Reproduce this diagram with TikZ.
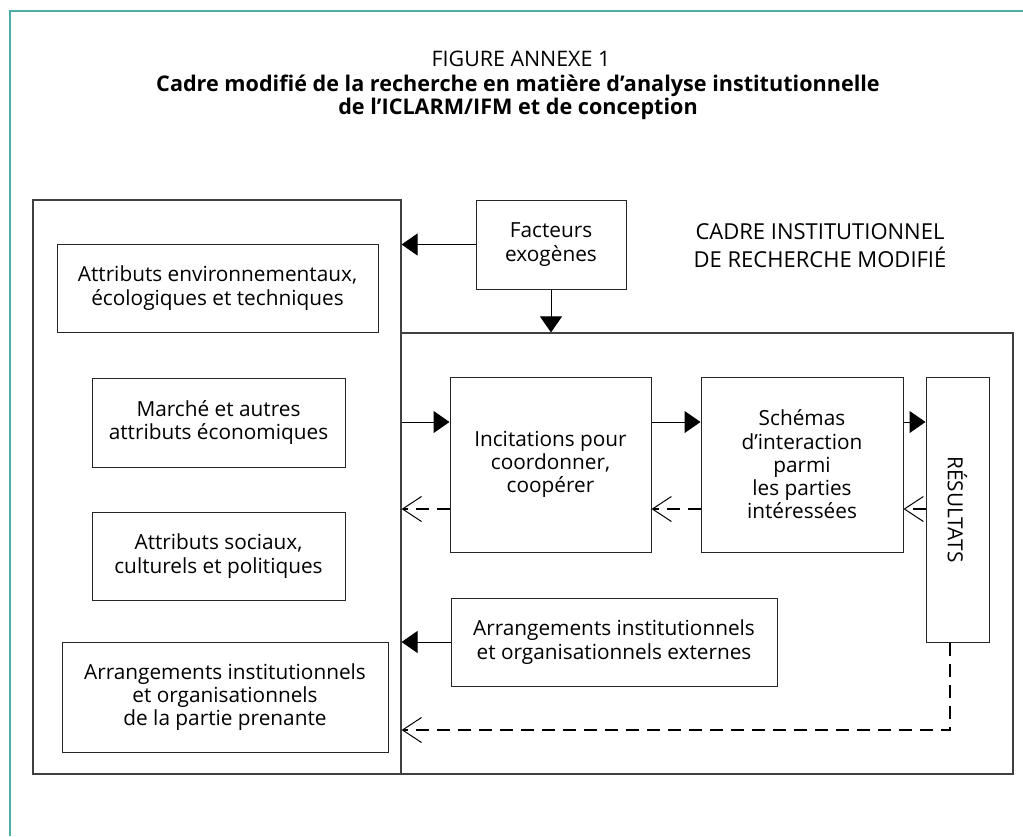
\documentclass[tikz,border=0pt]{standalone}
\usepackage{fontspec}
\setmainfont{Open Sans}
\usetikzlibrary{arrows.meta,calc,positioning}
\definecolor{frameteal}{RGB}{77,174,168}

\tikzset{
  box/.style={draw=black!85, line width=0.5pt, inner sep=0pt, align=center,
    font=\fontsize{10.4}{11.6}\selectfont},
  outer/.style={draw=black!75, line width=0.6pt, inner sep=0pt},
  fwd/.style={line width=0.5pt, -{Triangle[length=8pt,width=11pt]}},
  back/.style={line width=1.4pt, dash pattern=on 6.5pt off 4pt,
    -{Straight Barb[length=9.5pt,width=12.5pt,line width=0.5pt]}},
}

\begin{document}
\begin{tikzpicture}[x=0.5pt,y=-0.5pt]
  \useasboundingbox (0,0) rectangle (1023,836);
  \draw[frameteal, line width=1.1pt] (10,836) -- (10,11) -- (1023,11);
  % title
  \node (fig) at (521,59) {\fontsize{10.7}{11}\selectfont FIGURE ANNEXE 1};
  \node[align=center, font=\fontsize{10.8}{10.5}\selectfont\bfseries] (title) at (518,97.5)
    {Cadre modifié de la recherche en matière d’analyse institutionnelle\\de l’ICLARM/IFM et de conception};
  % the two frames
  \node[outer, minimum width=184pt, minimum height=287pt] (leftbox) at (217,487) {};
  \node[outer, minimum width=306pt, minimum height=220.5pt] (cadre) at (707,553.5) {};
  \node[align=center, font=\fontsize{11}{14}\selectfont] (cadrelbl) at (820,246)
    {CADRE INSTITUTIONNEL\\DE RECHERCHE MODIFIÉ};
  % boxes
  \node[box, minimum width=75pt, minimum height=44.5pt] (facteurs) at (551,244.5) {Facteurs\\exogènes};
  \node[box, minimum width=160.5pt, minimum height=44pt] (attenv) at (217.5,288)
    {Attributs environnementaux,\\écologiques et techniques};
  \node[box, minimum width=126.5pt, minimum height=44.5pt] (marche) at (218.5,422.5)
    {Marché et autres\\attributs économiques};
  \node[box, minimum width=126.5pt, minimum height=44pt] (sociaux) at (218.5,556)
    {Attributs sociaux,\\culturels et politiques};
  \node[box, minimum width=163pt, minimum height=55pt] (prenante) at (225,697)
    {Arrangements institutionnels\\et organisationnels\\de la partie prenante};
  \node[box, minimum width=100.5pt, minimum height=87.5pt] (incit) at (550.5,464.5)
    {Incitations pour\\coordonner,\\coopérer};
  \node[box, minimum width=101pt, minimum height=87.5pt] (schemas) at (802,464.5)
    {Schémas\\d’interaction\\parmi\\les parties\\intéressées};
  \node[box, minimum width=31.5pt, minimum height=132.5pt] (result) at (957.5,509.5) {};
  \node[rotate=-90, font=\fontsize{10.4}{11.6}\selectfont] (resultlbl) at (result.center) {RÉSULTATS};
  \node[box, minimum width=163pt, minimum height=44pt] (externes) at (614,642)
    {Arrangements institutionnels\\et organisationnels externes};
  % rows of the arrows
  \coordinate (rowA) at (0,422);
  \coordinate (rowB) at (0,509);
  \coordinate (rowC) at (0,730);
  \draw[fwd] (facteurs.west) -- (facteurs.west -| leftbox.east);
  \draw[fwd] (facteurs.south) -- (facteurs.south |- cadre.north);
  \draw[fwd] (rowA -| leftbox.east) -- (rowA -| incit.west);
  \draw[fwd] (rowA -| incit.east) -- (rowA -| schemas.west);
  \draw[fwd] (rowA -| schemas.east) -- (rowA -| result.west);
  \draw[fwd] (externes.west) -- (externes.west -| leftbox.east);
  \draw[back] (rowB -| incit.west) -- (rowB -| leftbox.east);
  \draw[back] (rowB -| schemas.west) -- (rowB -| incit.east);
  \draw[back] (rowB -| result.west) -- (rowB -| schemas.east);
  \draw[back] ([xshift=-3.75pt]result.south) |- (rowC -| leftbox.east);
\end{tikzpicture}
\end{document}
